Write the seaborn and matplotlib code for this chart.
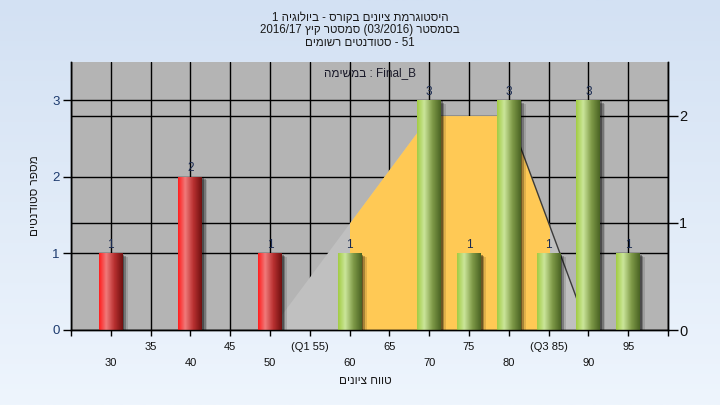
import re
import numpy as np
import pandas as pd
import matplotlib
matplotlib.use("Agg")
import matplotlib.pyplot as plt
import matplotlib.transforms as mtransforms
import matplotlib.patheffects as pe
import seaborn as sns
from matplotlib.colors import LinearSegmentedColormap
from matplotlib.patches import Rectangle

# histogram of grades
grades = [30, 40, 50, 60, 70, 75, 80, 85, 90, 95]
counts = [1, 2, 1, 1, 3, 1, 3, 1, 3, 1]
groups = ["fail", "fail", "fail", "pass", "pass", "pass", "pass", "pass", "pass", "pass"]

# distribution curve, drawn against the right axis
curve_x = [50, 60, 70, 80, 90]
curve_y = [0, 1, 2, 2, 0]
band_lo, band_hi = 60, 85

# axis ticks
row1_ticks = [35, 45, 55, 65, 75, 85, 95]
row1_labels = ["35", "45", "(Q1 55)", "65", "75", "(Q3 85)", "95"]
row2_ticks = [25, 30, 40, 50, 60, 70, 80, 90, 100]
row2_labels = ["", "30", "40", "50", "60", "70", "80", "90", ""]
left_ticks = [0, 1, 2, 3]
right_ticks = [0, 1, 2]

title_lines = ["היסטוגרמת ציונים בקורס - ביולוגיה 1",
               "בסמסטר (03/2016) סמסטר קיץ 2016/17",
               "51 - סטודנטים רשומים"]
series_name = "Final_B : במשימה"
xlabel = "טווח ציונים"
ylabel = "מספר סטודנטים"


def rtl(s):
    # matplotlib has no bidi support, so lay the hebrew out right to left by hand
    mirror = {"(": ")", ")": "("}
    tokens = re.findall(r"[A-Za-z0-9_/]+|.", s)
    return "".join(mirror.get(t, t) for t in reversed(tokens))


sns.set_style("white")
plt.rcParams["font.family"] = ["Liberation Sans", "DejaVu Sans"]

fig = plt.figure(figsize=(7.2, 4.05), dpi=100)

# light blue gradient background
bg = fig.add_axes([0, 0, 1, 1], zorder=-10)
bg.imshow(np.linspace(0, 1, 256)[:, None], aspect="auto",
          cmap=LinearSegmentedColormap.from_list("bg", ["#d3e1f3", "#eef5fd"]),
          extent=[0, 1, 0, 1])
bg.set_axis_off()

ax = fig.add_axes([71 / 720, 75 / 405, 597 / 720, 268 / 405])
ax.set_facecolor("#b4b4b4")
ax2 = ax.twinx()

df = pd.DataFrame({"grade": grades, "count": counts, "group": groups})
sns.barplot(data=df, x="grade", y="count", hue="group", native_scale=True,
            palette={"fail": "#e02020", "pass": "#9cc24a"}, width=0.6,
            dodge=False, legend=False, ax=ax, zorder=3, linewidth=0)

# cylinder shading on the bars, with a soft shadow
red_cmap = LinearSegmentedColormap.from_list(
    "red", [(0, "#ff1e1e"), (0.3, "#f07a7a"), (0.65, "#b83030"), (1, "#701010")])
green_cmap = LinearSegmentedColormap.from_list(
    "green", [(0, "#a2cc44"), (0.3, "#cbe69a"), (0.65, "#7f9a48"), (1, "#4a6424")])
shadow = [pe.SimplePatchShadow(offset=(1.2, -0.8), shadow_rgbFace="black", alpha=0.35),
          pe.SimplePatchShadow(offset=(2.4, -1.6), shadow_rgbFace="black", alpha=0.25),
          pe.SimplePatchShadow(offset=(3.6, -2.4), shadow_rgbFace="black", alpha=0.12),
          pe.Normal()]
shade = np.linspace(0, 1, 64)[None, :]
for bar in ax.patches:
    x0, y0, w, h = bar.get_x(), bar.get_y(), bar.get_width(), bar.get_height()
    if h <= 0:
        continue
    cmap = red_cmap if bar.get_facecolor()[1] < 0.4 else green_cmap
    bar.set_path_effects(shadow)
    im = ax.imshow(shade, cmap=cmap, aspect="auto", extent=[x0, x0 + w, y0, y0 + h],
                   zorder=3.5, interpolation="bilinear")
    im.set_clip_path(bar)

for c in ax.containers:
    ax.bar_label(c, fmt="%d", padding=2, fontsize=8.5, color="#1a2a50")

# distribution area (right-axis scale), under the bars
area_tr = ax2.transData
ax.fill_between(curve_x, curve_y, color="#c0c0c0", lw=0, zorder=1, transform=area_tr)
band = ax.fill_between(curve_x, curve_y, color="#ffc955", lw=0, zorder=1.1, transform=area_tr)
band.set_clip_path(Rectangle((band_lo, 0), band_hi - band_lo, 1,
                             transform=ax.get_xaxis_transform()))
ax.plot(curve_x[-2:], curve_y[-2:], color="#3a3a3a", lw=1, zorder=1.2, transform=area_tr)

ax.set_xlim(25, 100)
ax.set_ylim(0, 3.5)
ax2.set_ylim(0, 2.5)

ax.set_xticks(row1_ticks, row1_labels)
ax.set_xticks(row2_ticks, row2_labels, minor=True)
ax.set_yticks(left_ticks)
ax2.set_yticks(right_ticks)

# grid lines sit beneath the area
ax.set_axisbelow(True)
ax.grid(True, which="both", axis="x", color="black", lw=1)
ax.grid(True, axis="y", color="black", lw=1)
right_grid = mtransforms.blended_transform_factory(ax.transAxes, ax2.transData)
for v in right_ticks[1:]:
    ax.plot([0, 1], [v, v], color="black", lw=1, zorder=0.6, transform=right_grid)

ax.tick_params(axis="x", which="major", direction="out", length=4, width=1,
               color="black", pad=5, labelsize=8, labelcolor="#111111", bottom=True)
ax.tick_params(axis="x", which="minor", direction="out", length=4, width=1,
               color="black", pad=16, labelsize=8, labelcolor="#111111", bottom=True)
ax.tick_params(axis="y", direction="out", length=6, width=1, color="black",
               pad=2, labelsize=9.5, labelcolor="#1c3a6e", left=True)
ax2.tick_params(axis="y", direction="out", length=7, width=1, color="black",
                pad=1, labelsize=10.5, labelcolor="#111111", right=True)

for a in (ax, ax2):
    a.spines["top"].set_visible(False)
    for side in ("left", "right", "bottom"):
        a.spines[side].set_color("black")
        a.spines[side].set_linewidth(1)
ax.set_xlabel("")
ax.set_ylabel("")

for i, line in enumerate(title_lines):
    fig.text(0.5, 1 - (18 + 12.5 * i) / 405, rtl(line), ha="center", va="center",
             fontsize=8.3, color="#1a1a1a")
ax.text(0.5, 1 - 11 / 268, rtl(series_name), transform=ax.transAxes, ha="center",
        va="center", fontsize=8.5, color="#1a1a2a")
fig.text(365 / 720, 1 - 381 / 405, rtl(xlabel), ha="center", va="center",
         fontsize=8.5, color="#1a1a1a")
fig.text(35 / 720, 1 - 196 / 405, rtl(ylabel), ha="center", va="center",
         rotation=90, fontsize=8.5, color="#1a1a1a")

fig.savefig("out.png", dpi=100)
